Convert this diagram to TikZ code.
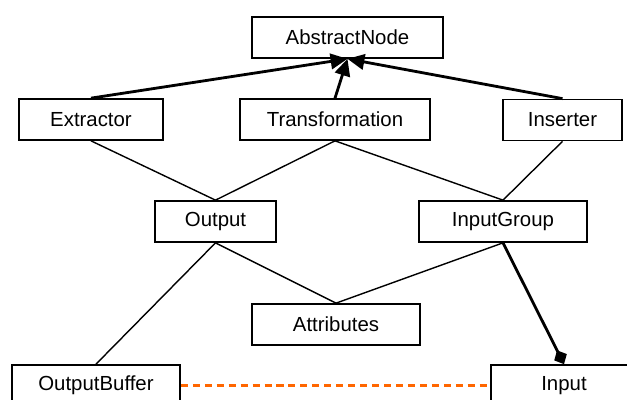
\documentclass[tikz,border=0pt]{standalone}
\usepackage{fontspec}
\setmainfont{Liberation Sans}
\usetikzlibrary{arrows.meta}
\definecolor{deporange}{RGB}{255,102,0}

\begin{document}
\begin{tikzpicture}[x=0.025cm, y=-0.025cm,
    cls/.style={draw, line width=1.2pt, inner sep=0pt, minimum height=1.025cm,
        font=\fontsize{14.5}{17}\selectfont},
    assoc/.style={line width=1pt},
    inherit/.style={line width=2pt, -{Triangle[length=12pt,width=11pt]}},
    comp/.style={line width=2pt, -{Diamond[length=11pt,width=10pt]}},
    dep/.style={draw=deporange, dashed, dash pattern=on 5pt off 3.5pt, line width=1.5pt}]
    \useasboundingbox (0,0) rectangle (627,400);
    \node[cls, minimum width=4.775cm] (abstract) at (347.5,37.5) {AbstractNode};
    \node[cls, minimum width=3.6cm] (extractor) at (91,119.5) {Extractor};
    \node[cls, minimum width=4.75cm] (transform) at (335,119.5) {Transformation};
    \node[cls, minimum width=2.975cm] (inserter) at (562.5,120) {Inserter};
    \node[cls, minimum width=3.025cm] (output) at (215.5,221.5) {Output};
    \node[cls, minimum width=4.2cm] (inputgroup) at (503,221.5) {InputGroup};
    \node[cls, minimum width=4.2cm] (attributes) at (336,324.5) {Attributes};
    \node[cls, minimum width=4.2cm] (outbuffer) at (96,385.5) {OutputBuffer};
    \node[cls, minimum width=3.65cm] (input) at (564,385.5) {Input};
    \draw[inherit] (extractor.north) -- (abstract.south);
    \draw[inherit] (transform.north) -- (abstract.south);
    \draw[inherit] (inserter.north) -- (abstract.south);
    \draw[assoc] (extractor.south) -- (output.north);
    \draw[assoc] (transform.south) -- (output.north);
    \draw[assoc] (transform.south) -- (inputgroup.north);
    \draw[assoc] (inserter.south) -- (inputgroup.north);
    \draw[assoc] (output.south) -- (attributes.north);
    \draw[assoc] (inputgroup.south) -- (attributes.north);
    \draw[assoc] (output.south) -- (outbuffer.north);
    \draw[comp] (inputgroup.south) -- (input.north);
    \draw[dep] (outbuffer.east) -- (input.west);
\end{tikzpicture}
\end{document}
